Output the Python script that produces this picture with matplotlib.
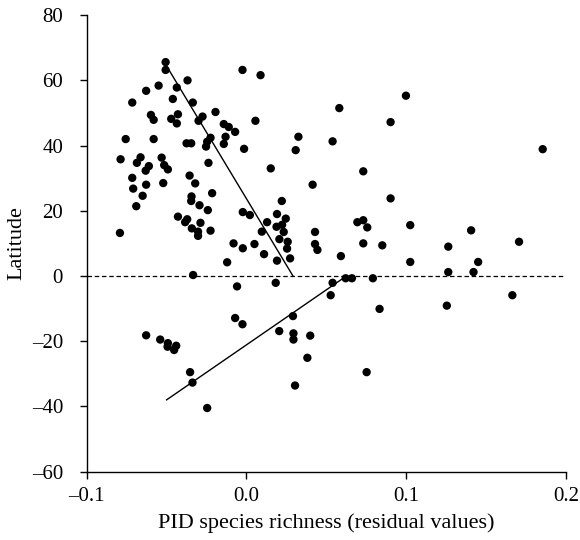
import matplotlib
matplotlib.use("Agg")
import matplotlib.pyplot as plt

plt.rcParams['font.family'] = ['Liberation Serif', 'DejaVu Serif']

# Residual species richness (x) against latitude (y) for each site
richness = [
    -0.0506, -0.0506, -0.0025, -0.0369, -0.0550, -0.0628, -0.0436, -0.0715, -0.0461, -0.0336,
    -0.0194, -0.0598, -0.0581, -0.0471, -0.0429, -0.0436, -0.0300, -0.0275, -0.0142, -0.0111,
    -0.0071, -0.0131, -0.0142, -0.0015, -0.0756, -0.0581, -0.0375, -0.0346, -0.0225, -0.0246,
    -0.0253, -0.0788, -0.0663, -0.0686, -0.0531, -0.0515, -0.0492, -0.0611, -0.0631, -0.0238,
    -0.0715, -0.0709, -0.0628, -0.0521, -0.0356, -0.0321, -0.0650, -0.0344, -0.0215,
    0.0088, 0.0056, 0.0581, 0.0325, 0.0539, 0.0308, 0.0152, 0.0414, 0.0221,
    0.0998, 0.0902, 0.1854, 0.0731, 0.0902,
    -0.0690, -0.0792, -0.0346, -0.0294, -0.0242, -0.0429, -0.0371, -0.0384, -0.0288, -0.0342,
    -0.0303, -0.0303, -0.0225, -0.0023, 0.0021, -0.0081, -0.0023, -0.0121, -0.0334, -0.0059,
    -0.0071, -0.0025, -0.0628, -0.0540,
    0.0191, 0.0246, 0.0129, 0.0223, 0.0188, 0.0233, 0.0096, 0.0206, 0.0258, 0.0050,
    0.0254, 0.0110, 0.0191, 0.0273, 0.0429, 0.0429, 0.0444, 0.0591, 0.0183, 0.0539,
    0.0621, 0.0527, 0.0291, 0.0205, 0.0294, 0.0294, 0.0399,
    0.0694, 0.0731, 0.0756, 0.1025, 0.1406, 0.0731, 0.0850, 0.1263, 0.1706, 0.1025,
    0.1450, 0.1263, 0.1421, 0.0660, 0.0791, 0.0833, 0.1254, 0.1664,
    -0.0492, -0.0494, -0.0440, -0.0453, -0.0353, -0.0338, -0.0246,
    0.0381, 0.0752, 0.0304,
]
latitude = [
    65.6, 63.2, 63.2, 60.0, 58.4, 56.8, 57.8, 53.2, 54.3, 53.2,
    50.3, 49.4, 47.9, 48.2, 49.6, 46.8, 47.6, 48.9, 46.6, 45.7,
    44.2, 42.7, 40.5, 39.0, 42.0, 42.0, 40.7, 40.7, 42.4, 41.2,
    39.7, 35.8, 36.4, 34.7, 36.3, 34.0, 32.7, 33.7, 32.3, 34.7,
    30.1, 26.8, 28.0, 28.5, 30.8, 28.4, 24.6, 24.4, 25.4,
    61.6, 47.6, 51.5, 42.7, 41.3, 38.6, 33.0, 28.0, 23.0,
    55.3, 47.2, 38.9, 32.1, 23.8,
    21.4, 13.2, 23.0, 21.7, 20.2, 18.2, 17.4, 16.5, 16.3, 14.6,
    13.6, 12.3, 13.9, 19.6, 18.7, 10.0, 8.5, 4.2, 0.3, -3.2,
    -12.9, -14.8, -18.2, -19.5,
    19.0, 17.6, 16.5, 15.7, 15.1, 13.5, 13.6, 11.3, 10.5, 9.8,
    8.4, 6.7, 4.7, 5.4, 13.5, 9.8, 8.0, 6.1, -2.1, -2.1,
    -0.7, -5.9, -12.3, -16.9, -17.6, -19.5, -18.3,
    16.5, 17.1, 14.9, 15.6, 14.0, 10.0, 9.4, 9.0, 10.5, 4.3,
    4.3, 1.2, 1.2, -0.7, -0.7, -10.1, -9.1, -5.9,
    -20.6, -21.7, -21.4, -22.7, -29.5, -32.7, -40.5,
    -25.1, -29.5, -33.6,
]

# Fitted regression lines for the northern and southern hemispheres
north_fit_x = [-0.0500, 0.0291]
north_fit_y = [64.4, 0.0]
south_fit_x = [-0.0500, 0.0608]
south_fit_y = [-38.0, -0.6]

x_ticks = [-0.1, 0.0, 0.1, 0.2]
x_tick_labels = ['\u20130.1', '0.0', '0.1', '0.2']
y_ticks = [-60, -40, -20, 0, 20, 40, 60, 80]
y_tick_labels = ['\u201360', '\u201340', '\u201320', '0', '20', '40', '60', '80']

fig = plt.figure(figsize=(5.8, 5.4), dpi=100)
ax = fig.add_axes([0.1495, 0.1267, 0.8264, 0.8452])

ax.axhline(0, color='black', lw=0.9, dashes=(3.6, 2.2), zorder=1)
ax.plot(north_fit_x, north_fit_y, color='black', lw=1.0, zorder=2)
ax.plot(south_fit_x, south_fit_y, color='black', lw=1.0, zorder=2)
ax.scatter(richness, latitude, s=36, color='black', edgecolors='none', zorder=3)

ax.set_xlim(-0.1, 0.2)
ax.set_ylim(-60, 80)
ax.set_xticks(x_ticks)
ax.set_xticklabels(x_tick_labels)
ax.set_yticks(y_ticks)
ax.set_yticklabels(y_tick_labels)

for side in ('top', 'right'):
    ax.spines[side].set_visible(False)
for side in ('left', 'bottom'):
    ax.spines[side].set_linewidth(1.0)

ax.tick_params(axis='both', direction='out', length=5, width=1.0, labelsize=15)
ax.tick_params(axis='y', pad=12)
ax.tick_params(axis='x', pad=6)
ax.set_xlabel('PID species richness (residual values)', fontsize=16, labelpad=5)
ax.set_ylabel('Latitude', fontsize=16, labelpad=3.5)

fig.savefig('out.png', dpi=100)
